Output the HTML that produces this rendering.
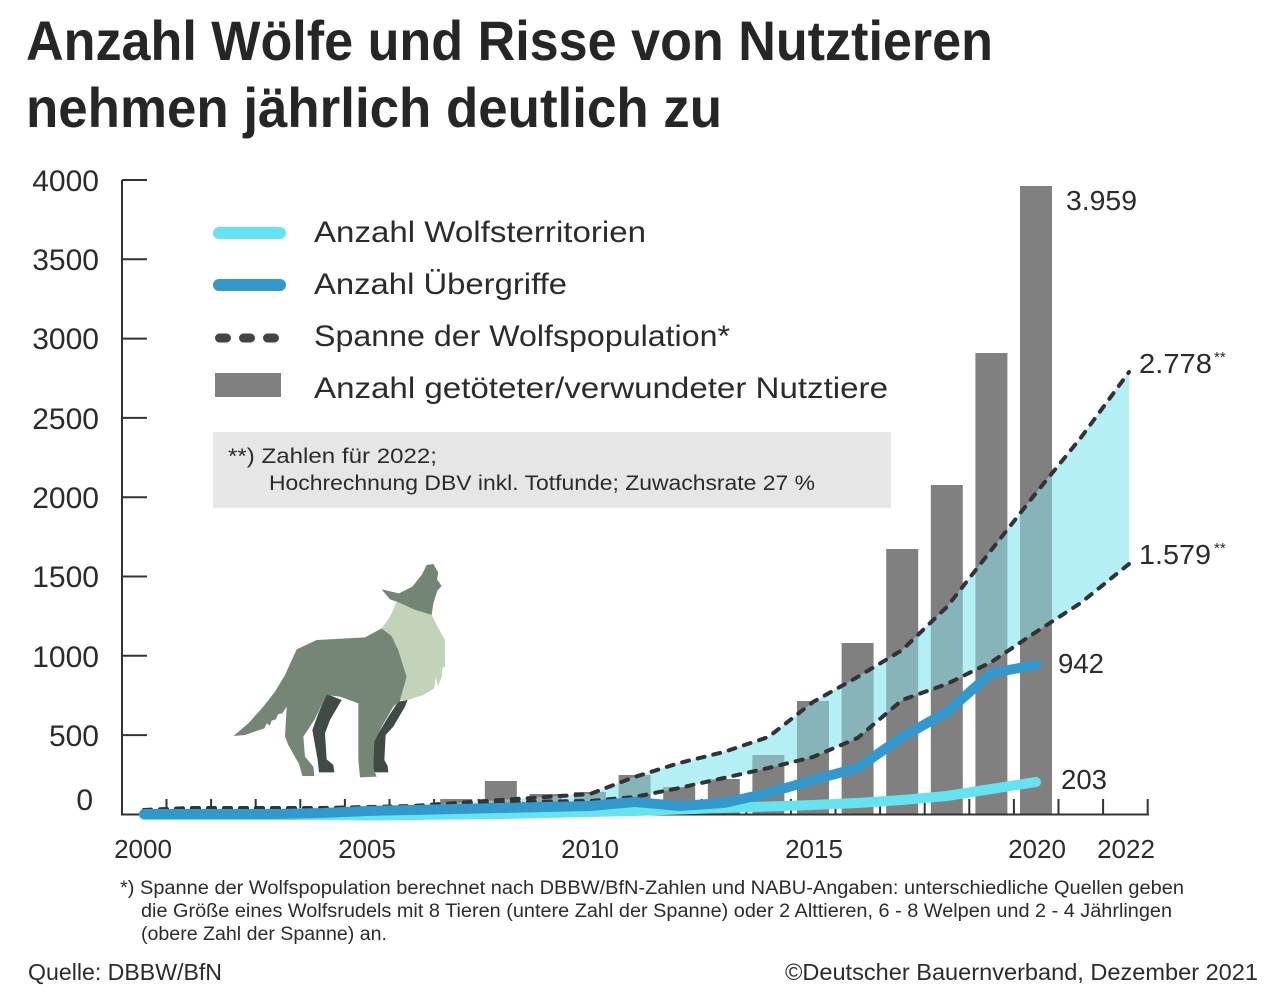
<!DOCTYPE html>
<html>
<head>
<meta charset="utf-8">
<style>
  html,body{margin:0;padding:0;background:#fff;}
  svg{display:block;}
  text{font-family:"Liberation Sans","DejaVu Sans",sans-serif;fill:#2b2b2b;}
</style>
</head>
<body>
<svg width="1283" height="999" viewBox="0 0 1283 999" xmlns="http://www.w3.org/2000/svg">
  <defs>
    <clipPath id="barclip">
      <rect x="440.2" y="799" width="32" height="16"/>
      <rect x="484.8" y="781" width="32" height="34"/>
      <rect x="529.4" y="794" width="32" height="21"/>
      <rect x="574" y="792" width="32" height="23"/>
      <rect x="618.6" y="775" width="32" height="40"/>
      <rect x="663.2" y="787" width="32" height="28"/>
      <rect x="707.8" y="779" width="32" height="36"/>
      <rect x="752.4" y="755" width="32" height="60"/>
      <rect x="797" y="701" width="32" height="114"/>
      <rect x="841.6" y="643" width="32" height="172"/>
      <rect x="886.2" y="549" width="32" height="266"/>
      <rect x="930.8" y="485" width="32" height="330"/>
      <rect x="975.4" y="353" width="32" height="462"/>
      <rect x="1020" y="186" width="32" height="629"/>
    </clipPath>
  </defs>

  <!-- Title -->
  <text x="26" y="60" font-size="56" font-weight="bold" textLength="967" lengthAdjust="spacingAndGlyphs" style="fill:#262626">Anzahl Wölfe und Risse von Nutztieren</text>
  <text x="26" y="127" font-size="56" font-weight="bold" textLength="696" lengthAdjust="spacingAndGlyphs" style="fill:#262626">nehmen jährlich deutlich zu</text>

  <!-- Y axis -->
  <g stroke="#333" stroke-width="2">
    <line x1="122" y1="180" x2="122" y2="815"/>
    <line x1="122" y1="180" x2="147" y2="180"/>
    <line x1="122" y1="259.3" x2="147" y2="259.3"/>
    <line x1="122" y1="338.6" x2="147" y2="338.6"/>
    <line x1="122" y1="417.9" x2="147" y2="417.9"/>
    <line x1="122" y1="497.2" x2="147" y2="497.2"/>
    <line x1="122" y1="576.5" x2="147" y2="576.5"/>
    <line x1="122" y1="655.8" x2="147" y2="655.8"/>
    <line x1="122" y1="735.1" x2="147" y2="735.1"/>
  </g>
  <g font-size="30" text-anchor="end">
    <text x="99" y="191">4000</text>
    <text x="99" y="270">3500</text>
    <text x="99" y="349">3000</text>
    <text x="99" y="429">2500</text>
    <text x="99" y="508">2000</text>
    <text x="99" y="587">1500</text>
    <text x="99" y="667">1000</text>
    <text x="99" y="746">500</text>
    <text x="93" y="810">0</text>
  </g>

  <!-- Legend -->
  <line x1="219" y1="233" x2="280" y2="233" stroke="#66e3f0" stroke-width="12" stroke-linecap="round"/>
  <line x1="219" y1="285" x2="280" y2="285" stroke="#3399cc" stroke-width="12" stroke-linecap="round"/>
  <g fill="#444">
    <rect x="215" y="333.5" width="16" height="9" rx="4.5"/>
    <rect x="239" y="333.5" width="16" height="9" rx="4.5"/>
    <rect x="263" y="333.5" width="16" height="9" rx="4.5"/>
  </g>
  <rect x="215" y="373" width="66" height="24" fill="#808080"/>
  <g font-size="30">
    <text x="314" y="242" textLength="332" lengthAdjust="spacingAndGlyphs">Anzahl Wolfsterritorien</text>
    <text x="314" y="294" textLength="253" lengthAdjust="spacingAndGlyphs">Anzahl Übergriffe</text>
    <text x="314" y="346" textLength="416" lengthAdjust="spacingAndGlyphs">Spanne der Wolfspopulation*</text>
    <text x="314" y="398" textLength="574" lengthAdjust="spacingAndGlyphs">Anzahl getöteter/verwundeter Nutztiere</text>
  </g>

  <!-- Note box -->
  <rect x="213" y="432" width="678" height="76" fill="#e6e6e6"/>
  <g font-size="21">
    <text x="228" y="463" textLength="209" lengthAdjust="spacingAndGlyphs">**) Zahlen für 2022;</text>
    <text x="269" y="490" textLength="546" lengthAdjust="spacingAndGlyphs">Hochrechnung DBV inkl. Totfunde; Zuwachsrate 27 %</text>
  </g>

  <!-- Wolf -->
  <g transform="translate(225,560) scale(0.33333)">
    <path fill="#414b46" d="M305,402 L350,420 L315,480 L300,520 L305,598 L325,615 L328,637 L282,637 L278,600 L262,510 L280,460 Z"/>
    <path fill="#414b46" d="M520,425 L548,420 L540,440 L505,500 L482,525 L478,600 L488,618 L490,637 L445,637 L445,545 L490,470 Z"/>
    <path fill="#758677" d="M25,528 L70,490 L115,440 L150,395 L180,345 L215,268 L275,240 L420,232 L470,205 L500,228 L520,270 L545,350 L528,420 L505,440 L470,500 L448,545 L445,625 L455,650 L405,652 L400,600 L400,430 L345,410 L305,405 L268,480 L235,530 L240,590 L265,620 L268,648 L232,648 L222,612 L190,555 L180,530 L185,440 L172,460 L160,462 L152,478 L140,482 L135,497 L125,490 L118,505 L60,525 Z"/>
    <path fill="#738575" d="M470,88 L522,100 L562,80 L590,45 L605,15 L625,12 L640,38 L636,58 L650,78 L637,92 L625,130 L620,165 L570,150 L515,125 L495,118 Z"/>
    <path fill="#c3d3b9" d="M515,125 L570,150 L620,165 L640,205 L660,240 L660,320 L652,325 L650,350 L640,378 L632,352 L628,385 L595,405 L548,420 L525,420 L545,350 L520,270 L500,228 L470,205 L495,170 Z"/>
  </g>

  <!-- X axis ticks -->
  <g stroke="#333" stroke-width="2">
    <path d="M166.5,799V814 M211.1,799V814 M255.7,799V814 M300.3,799V814 M344.9,799V814 M389.5,799V814 M434.1,799V814 M478.7,799V814 M523.3,799V814 M567.9,799V814 M612.5,799V814 M657.1,799V814 M701.7,799V814 M746.3,799V814 M790.9,799V814 M835.5,799V814 M880.1,799V814 M924.7,799V814 M969.3,799V814 M1013.9,799V814 M1058.5,799V814 M1103.1,799V814 M1147.7,799V814"/>
  </g>

  <!-- Bars -->
  <g fill="#808080">
    <rect x="440.2" y="799" width="32" height="16"/>
    <rect x="484.8" y="781" width="32" height="34"/>
    <rect x="529.4" y="794" width="32" height="21"/>
    <rect x="574" y="792" width="32" height="23"/>
    <rect x="618.6" y="775" width="32" height="40"/>
    <rect x="663.2" y="787" width="32" height="28"/>
    <rect x="707.8" y="779" width="32" height="36"/>
    <rect x="752.4" y="755" width="32" height="60"/>
    <rect x="797" y="701" width="32" height="114"/>
    <rect x="841.6" y="643" width="32" height="172"/>
    <rect x="886.2" y="549" width="32" height="266"/>
    <rect x="930.8" y="485" width="32" height="330"/>
    <rect x="975.4" y="353" width="32" height="462"/>
    <rect x="1020" y="186" width="32" height="629"/>
  </g>

  <!-- Range fill -->
  <polygon id="rng" fill="#b3eff5" points="144,810 188.6,808 233.2,808 277.8,808 322.4,808 367,807 411.6,806 456.2,803 500.8,800 545.4,797 590,794 634.6,777 679.2,763 723.8,752 768.4,737 813,702 857.6,677 902.2,650 946.8,607 991.4,550 1036,493 1080.6,438 1129,372 1129,564 1080.6,603 1036,632 991.4,662 946.8,684 902.2,700 857.6,738 813,757 768.4,768 723.8,778 679.2,788 634.6,797 590,801 545.4,801.5 500.8,802.5 456.2,804.5 411.6,807 367,808 322.4,808.5 277.8,808.5 233.2,808.5 188.6,808.5 144,810"/>
  <polygon fill="#87b4b8" clip-path="url(#barclip)" points="144,810 188.6,808 233.2,808 277.8,808 322.4,808 367,807 411.6,806 456.2,803 500.8,800 545.4,797 590,794 634.6,777 679.2,763 723.8,752 768.4,737 813,702 857.6,677 902.2,650 946.8,607 991.4,550 1036,493 1080.6,438 1129,372 1129,564 1080.6,603 1036,632 991.4,662 946.8,684 902.2,700 857.6,738 813,757 768.4,768 723.8,778 679.2,788 634.6,797 590,801 545.4,801.5 500.8,802.5 456.2,804.5 411.6,807 367,808 322.4,808.5 277.8,808.5 233.2,808.5 188.6,808.5 144,810"/>

  <!-- Dashed lines -->
  <g fill="none" stroke="#333" stroke-width="4" stroke-dasharray="7 9" stroke-linecap="round" stroke-linejoin="round">
    <polyline points="144,810 188.6,808 233.2,808 277.8,808 322.4,808 367,807 411.6,806 456.2,803 500.8,800 545.4,797 590,794 634.6,777 679.2,763 723.8,752 768.4,737 813,702 857.6,677 902.2,650 946.8,607 991.4,550 1036,493 1080.6,438 1129,372"/>
    <polyline points="144,810 188.6,808.5 233.2,808.5 277.8,808.5 322.4,808.5 367,808 411.6,807 456.2,804.5 500.8,802.5 545.4,801.5 590,801 634.6,797 679.2,788 723.8,778 768.4,768 813,757 857.6,738 902.2,700 946.8,684 991.4,662 1036,632 1080.6,603 1129,564"/>
  </g>

  <!-- X axis line -->
  <line x1="121" y1="814.5" x2="1149" y2="814.5" stroke="#333" stroke-width="2"/>

  <!-- Territories (light cyan) -->
  <polyline fill="none" stroke="#66e3f0" stroke-width="10" stroke-linecap="round" stroke-linejoin="round"
    points="144,815 188.6,815 233.2,815 277.8,815 322.4,815 367,815.5 411.6,815 456.2,814.5 500.8,814 545.4,813 590,812 634.6,811 679.2,809.5 723.8,808 768.4,806.5 813,805 857.6,803 902.2,800 946.8,796 991.4,789 1036,782"/>
  <!-- Übergriffe (blue) -->
  <polyline fill="none" stroke="#3399cc" stroke-width="10" stroke-linecap="round" stroke-linejoin="round"
    points="144,814 188.6,814 233.2,814 277.8,814 322.4,813 367,811 411.6,810 456.2,809 500.8,808 545.4,807 590,806 634.6,802 679.2,806 723.8,803 768.4,793 813,780 857.6,768 902.2,737 946.8,712 991.4,673 1036,665"/>

  <!-- Value labels -->
  <g font-size="28">
    <text x="1066" y="210" textLength="71" lengthAdjust="spacingAndGlyphs">3.959</text>
    <text x="1139" y="373" textLength="73" lengthAdjust="spacingAndGlyphs">2.778</text>
    <text x="1139" y="564" textLength="72" lengthAdjust="spacingAndGlyphs">1.579</text>
    <text x="1058" y="673" textLength="46" lengthAdjust="spacingAndGlyphs">942</text>
    <text x="1061" y="789" textLength="46" lengthAdjust="spacingAndGlyphs">203</text>
  </g>
  <g font-size="15">
    <text x="1214" y="362">**</text>
    <text x="1214" y="553">**</text>
  </g>

  <!-- X labels -->
  <g font-size="26" text-anchor="middle">
    <text x="143" y="858">2000</text>
    <text x="367" y="858">2005</text>
    <text x="590" y="858">2010</text>
    <text x="814" y="858">2015</text>
    <text x="1037" y="858">2020</text>
    <text x="1126" y="858">2022</text>
  </g>

  <!-- Footnote -->
  <g font-size="19">
    <text x="120" y="894" textLength="1064" lengthAdjust="spacingAndGlyphs">*) Spanne der Wolfspopulation berechnet nach DBBW/BfN-Zahlen und NABU-Angaben: unterschiedliche Quellen geben</text>
    <text x="141" y="917" textLength="1031" lengthAdjust="spacingAndGlyphs">die Größe eines Wolfsrudels mit 8 Tieren (untere Zahl der Spanne) oder 2 Alttieren, 6 - 8 Welpen und 2 - 4 Jährlingen</text>
    <text x="141" y="940" textLength="246" lengthAdjust="spacingAndGlyphs">(obere Zahl der Spanne) an.</text>
  </g>
  <g font-size="23">
    <text x="28" y="980" textLength="194" lengthAdjust="spacingAndGlyphs">Quelle: DBBW/BfN</text>
    <text x="785" y="980" textLength="473" lengthAdjust="spacingAndGlyphs">©Deutscher Bauernverband, Dezember 2021</text>
  </g>
</svg>
</body>
</html>
